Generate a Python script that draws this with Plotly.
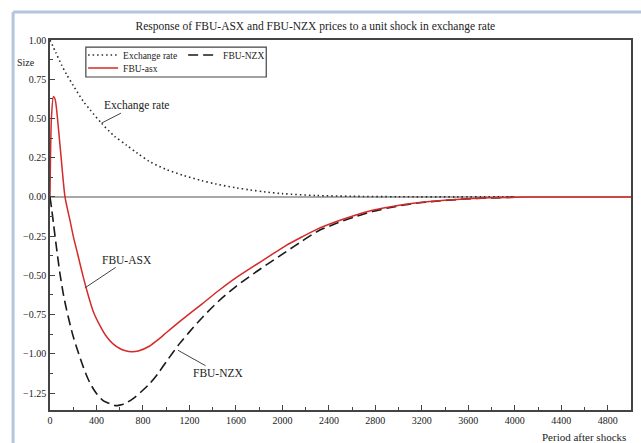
import plotly.graph_objects as go

# ---- data ----
er_x = [0, 50, 100, 143, 200, 286, 350, 443, 550, 658, 750, 858, 1000, 1144, 1300,
        1430, 1600, 1716, 1850, 2000, 2288, 2600, 3000, 3500, 4000]
er_y = [1.00, 0.92, 0.84, 0.78, 0.71, 0.61, 0.55, 0.47, 0.39, 0.33, 0.28, 0.225, 0.175,
        0.138, 0.105, 0.082, 0.058, 0.045, 0.032, 0.021, 0.009, 0.004, 0.001, 0.0, 0.0]

asx_x = [0, 12, 30, 45, 86, 129, 172, 200, 240, 286, 330, 372, 430, 486, 540, 600, 650,
         700, 760, 858, 930, 1000, 1115, 1315, 1450, 1602, 1750, 1888, 2030, 2173, 2300,
         2460, 2620, 2774, 2920, 3060, 3200, 3346, 3500, 3632, 3780, 3918, 4100, 4400, 5000]
asx_y = [0.0, 0.50, 0.64, 0.62, 0.33, 0.0, -0.15, -0.25, -0.37, -0.51, -0.63, -0.73,
         -0.82, -0.89, -0.935, -0.966, -0.98, -0.987, -0.982, -0.950, -0.910, -0.866, -0.795,
         -0.678, -0.598, -0.515, -0.443, -0.378, -0.31, -0.253, -0.205, -0.158, -0.118, -0.085,
         -0.064, -0.047, -0.034, -0.024, -0.016, -0.01, -0.006, -0.004, -0.001, 0.0, 0.0]

nzx_x = [0, 15, 30, 57, 86, 115, 143, 200, 286, 340, 400, 460, 515, 560, 600, 650, 715,
         780, 858, 930, 1001, 1115, 1200, 1315, 1450, 1602, 1750, 1888, 2030, 2173, 2300,
         2460, 2620, 2774, 2920, 3060, 3200, 3346, 3500, 3632, 3800, 4000]
nzx_y = [0.0, -0.08, -0.17, -0.33, -0.49, -0.62, -0.72, -0.89, -1.083, -1.18, -1.253,
         -1.30, -1.317, -1.33, -1.327, -1.315, -1.285, -1.245, -1.19, -1.125, -1.05, -0.935,
         -0.86, -0.765, -0.665, -0.57, -0.49, -0.42, -0.35, -0.28, -0.22, -0.17, -0.128,
         -0.093, -0.069, -0.05, -0.036, -0.026, -0.017, -0.011, -0.006, -0.002]

x_ticks = [0, 400, 800, 1200, 1600, 2000, 2400, 2800, 3200, 3600, 4000, 4400, 4800]
y_ticks = [1.00, 0.75, 0.50, 0.25, 0.00, -0.25, -0.50, -0.75, -1.00, -1.25]

FONT = "Liberation Serif"
INK = "#222222"

fig = go.Figure()
fig.add_trace(go.Scatter(x=er_x, y=er_y, mode="lines", name="Exchange rate",
                         line=dict(color="#2a2a2a", width=1.6, dash="1.5px,3px", shape="spline", smoothing=0.8),
                         legend="legend"))
fig.add_trace(go.Scatter(x=nzx_x, y=nzx_y, mode="lines", name="FBU-NZX",
                         line=dict(color="#1a1a1a", width=1.6, dash="10px,5px", shape="spline", smoothing=0.8),
                         legend="legend"))
fig.add_trace(go.Scatter(x=asx_x, y=asx_y, mode="lines", name="FBU-asx",
                         line=dict(color="#d42a2a", width=1.5, shape="spline", smoothing=0.6),
                         legend="legend2"))

axis_common = dict(showline=True, linecolor="#444444", linewidth=1.5, mirror=True,
                   ticks="inside", ticklen=5, tickcolor="#444444", tickwidth=1,
                   showgrid=False, tickfont=dict(family=FONT, size=10, color=INK))

fig.update_xaxes(range=[0, 5000], tickvals=x_ticks, zeroline=False,
                 minor=dict(dtick=200, ticks="inside", ticklen=3, tickcolor="#444444", showgrid=False),
                 **axis_common)
fig.update_yaxes(range=[-1.358, 1.0], tickvals=y_ticks, tickformat=".2f",
                 zeroline=True, zerolinecolor="#a8a8a8", zerolinewidth=2,
                 minor=dict(dtick=0.125, ticks="inside", ticklen=3, tickcolor="#444444", showgrid=False),
                 **axis_common)

fig.update_layout(
    width=641, height=443,
    margin=dict(l=50, r=8, t=40, b=33),
    paper_bgcolor="white", plot_bgcolor="white",
    font=dict(family=FONT, color=INK),
    title=dict(text="Response of FBU-ASX and FBU-NZX prices to a unit shock in exchange rate",
               x=0.492, xref="container", y=1 - 26 / 443, yref="container",
               xanchor="center", yanchor="middle",
               font=dict(family=FONT, size=11.5, color=INK)),
    legend=dict(orientation="h", x=0.057, xanchor="left", y=0.9595, yanchor="middle",
                bgcolor="rgba(0,0,0,0)", borderwidth=0, entrywidth=55, itemwidth=30,
                font=dict(family=FONT, size=9.5, color=INK)),
    legend2=dict(orientation="h", x=0.057, xanchor="left", y=0.9243, yanchor="middle",
                 bgcolor="rgba(0,0,0,0)", borderwidth=0, itemwidth=30,
                 font=dict(family=FONT, size=9.5, color=INK)),
    showlegend=True,
    shapes=[
        dict(type="rect", xref="paper", yref="paper", x0=0.0617, x1=0.3722, y0=0.90, y1=0.981,
             line=dict(color="#444444", width=1.2), fillcolor="rgba(0,0,0,0)"),
        dict(type="line", xref="paper", yref="paper", x0=-0.0635, x1=1.02, y0=1.0757, y1=1.0757,
             line=dict(color="#b4c6dc", width=3)),
        dict(type="line", xref="paper", yref="paper", x0=-0.0635, x1=-0.0635, y0=-0.1, y1=1.0757,
             line=dict(color="#b4c6dc", width=3)),
    ],
    annotations=[
        dict(text="Size", xref="paper", yref="paper", x=-0.041, y=0.9405, showarrow=False,
             xanchor="center", yanchor="middle", font=dict(family=FONT, size=10, color=INK)),
        dict(text="Period after shocks", xref="paper", yref="paper", x=0.9949, y=-0.073,
             showarrow=False, xanchor="right", yanchor="middle",
             font=dict(family=FONT, size=11, color=INK)),
        dict(text="Exchange rate", x=443, y=0.47, xref="x", yref="y", showarrow=True,
             arrowhead=0, arrowwidth=1, arrowcolor="#444444", ax=35, ay=-18,
             font=dict(family=FONT, size=11.5, color=INK)),
        dict(text="FBU-ASX", x=300, y=-0.58, xref="x", yref="y", showarrow=True,
             arrowhead=0, arrowwidth=1, arrowcolor="#444444", ax=42, ay=-28,
             font=dict(family=FONT, size=11.5, color=INK)),
        dict(text="FBU-NZX", x=1101, y=-0.977, xref="x", yref="y", showarrow=True,
             arrowhead=0, arrowwidth=1, arrowcolor="#444444", ax=41, ay=23,
             font=dict(family=FONT, size=11.5, color=INK)),
    ],
)

fig.write_html("out.html", config={"displayModeBar": False},
               post_script="document.body.style.margin='0';document.body.style.overflow='hidden';")
